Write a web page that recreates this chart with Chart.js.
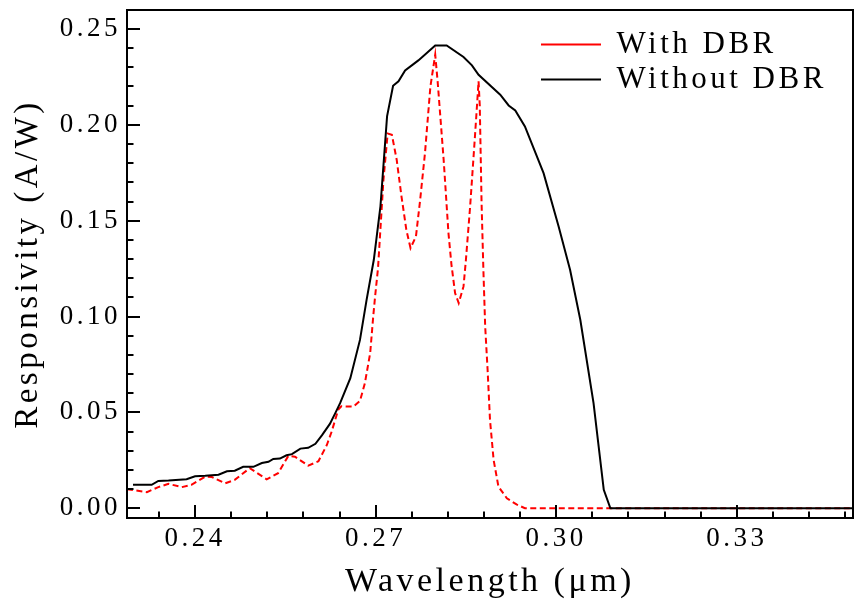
<!DOCTYPE html>
<html><head><meta charset="utf-8">
<script src="https://cdn.jsdelivr.net/npm/chart.js@4/dist/chart.umd.min.js"></script>
<style>html,body{margin:0;padding:0;background:#fff}#wrap{width:863px;height:609px;position:relative}</style>
</head><body><div id="wrap"><canvas id="c"></canvas></div>
<script>
// ---- data ----
const withDbrWavelength = [0.2287,0.2320,0.2339,0.2356,0.2378,0.2394,0.2417,0.2428,0.2450,0.2466,0.2491,0.2519,0.2538,0.2555,0.2566,0.2588,0.2605,0.2619,0.2627,0.2638,0.2643,0.2663,0.2674,0.2682,0.2691,0.2696,0.2699,0.2704,0.2713,0.2720,0.2727,0.2735,0.2743,0.2751,0.2758,0.2767,0.2774,0.2782,0.2791,0.2799,0.2803,0.2813,0.2821,0.2826,0.2832,0.2838,0.2846,0.2850,0.2857,0.2865,0.2869,0.2871,0.2873,0.2876,0.2879,0.2882,0.2886,0.2890,0.2896,0.2904,0.2918,0.2934,0.2948,0.3493];
const withDbrResponsivity = [0.0099,0.0084,0.0110,0.0127,0.0110,0.0122,0.0165,0.0163,0.0130,0.0148,0.0209,0.0151,0.0183,0.0273,0.0269,0.0222,0.0245,0.0330,0.0400,0.0515,0.0532,0.0530,0.0560,0.0650,0.0810,0.1000,0.1100,0.1253,0.1713,0.1954,0.1948,0.1818,0.1626,0.1453,0.1357,0.1418,0.1609,0.1853,0.2200,0.2366,0.2227,0.1818,0.1435,0.1270,0.1122,0.1070,0.1157,0.1296,0.1574,0.1939,0.2131,0.2227,0.2100,0.1592,0.1244,0.0948,0.0722,0.0461,0.0252,0.0113,0.0052,0.0020,0.0000,0.0000];
const withoutDbrWavelength = [0.2297,0.2328,0.2339,0.2356,0.2386,0.2400,0.2417,0.2439,0.2453,0.2466,0.2480,0.2497,0.2511,0.2522,0.2530,0.2541,0.2552,0.2561,0.2575,0.2588,0.2600,0.2611,0.2624,0.2633,0.2641,0.2658,0.2674,0.2685,0.2697,0.2708,0.2719,0.2729,0.2738,0.2749,0.2771,0.2799,0.2818,0.2846,0.2860,0.2871,0.2907,0.2921,0.2932,0.2948,0.2979,0.3004,0.3023,0.3040,0.3062,0.3079,0.3090,0.3493];
const withoutDbrResponsivity = [0.0122,0.0122,0.0142,0.0144,0.0151,0.0167,0.0169,0.0175,0.0193,0.0196,0.0216,0.0216,0.0236,0.0242,0.0257,0.0259,0.0276,0.0282,0.0311,0.0315,0.0336,0.0381,0.0440,0.0496,0.0548,0.0678,0.0878,0.1087,0.1296,0.1574,0.2044,0.2204,0.2227,0.2284,0.2336,0.2414,0.2414,0.2354,0.2310,0.2261,0.2157,0.2101,0.2075,0.1992,0.1748,0.1470,0.1244,0.0983,0.0548,0.0096,0.0000,0.0000];
const seriesLabels = ['With DBR', 'Without DBR'];
const xTickValues = [0.24, 0.27, 0.30, 0.33];
const xTickLabels = ['0.24', '0.27', '0.30', '0.33'];
const yTickValues = [0.00, 0.05, 0.10, 0.15, 0.20, 0.25];
const yTickLabels = ['0.00', '0.05', '0.10', '0.15', '0.20', '0.25'];
const xTitle = 'Wavelength (\u03bcm)';
const yTitle = 'Responsivity (A/W)';

const FONT = "'Liberation Serif', 'Times New Roman', serif";
const SPACING = '3.5px';
const MAJOR_LEN = 13, MINOR_LEN = 6.5;

function pts(xs, ys) { return xs.map((x, i) => ({x: x, y: ys[i]})); }

function drawFrameAndTicks(chart) {
  const ctx = chart.ctx, a = chart.chartArea;
  const xs = chart.scales.x, ys = chart.scales.y;
  ctx.save();
  ctx.setLineDash([]);
  ctx.strokeStyle = '#000000';
  ctx.lineCap = 'butt';
  ctx.lineWidth = 2;
  const xMinorStep = 0.006;
  const k0 = Math.ceil(xs.min / xMinorStep - 1e-9);
  const k1 = Math.floor(xs.max / xMinorStep + 1e-9);
  for (let k = k0; k <= k1; k++) {
    const v = k * xMinorStep;
    const px = Math.round(xs.getPixelForValue(v));
    const major = xTickValues.some(t => Math.abs(t - v) < 1e-6);
    ctx.beginPath();
    ctx.moveTo(px, a.bottom);
    ctx.lineTo(px, a.bottom - (major ? MAJOR_LEN : MINOR_LEN));
    ctx.stroke();
  }
  const yMinorStep = 0.01;
  const j0 = Math.ceil(ys.min / yMinorStep - 1e-9);
  const j1 = Math.floor(ys.max / yMinorStep + 1e-9);
  for (let j = j0; j <= j1; j++) {
    const v = j * yMinorStep;
    const py = Math.round(ys.getPixelForValue(v));
    const major = yTickValues.some(t => Math.abs(t - v) < 1e-6);
    ctx.beginPath();
    ctx.moveTo(a.left, py);
    ctx.lineTo(a.left + (major ? MAJOR_LEN : MINOR_LEN), py);
    ctx.stroke();
  }
  ctx.beginPath();
  ctx.rect(a.left, a.top, a.right - a.left, a.bottom - a.top);
  ctx.stroke();
  ctx.restore();
}

const frameTicks = {
  id: 'frameTicks',
  beforeLayout(chart) { chart.ctx.letterSpacing = SPACING; },
  beforeDraw(chart) { chart.ctx.letterSpacing = SPACING; },
  afterLayout(chart) {
    const lg = chart.legend;
    if (!lg) return;
    lg.left = 537; lg.top = 25; lg.right = 863; lg.bottom = 220;
    lg.width = lg.right - lg.left; lg.height = lg.bottom - lg.top;
  },
  afterDraw(chart) { drawFrameAndTicks(chart); }
};

new Chart(document.getElementById('c'), {
  type: 'line',
  data: {
    datasets: [
      {
        label: seriesLabels[0],
        data: pts(withDbrWavelength, withDbrResponsivity),
        borderColor: '#ff0000', backgroundColor: '#ff0000',
        borderWidth: 2, borderDash: [6, 3.5],
        pointRadius: 0, pointStyle: 'line', tension: 0, fill: false, order: 1
      },
      {
        label: seriesLabels[1],
        data: pts(withoutDbrWavelength, withoutDbrResponsivity),
        borderColor: '#000000', backgroundColor: '#000000',
        borderWidth: 2,
        pointRadius: 0, pointStyle: 'line', tension: 0, fill: false, order: 0
      }
    ]
  },
  options: {
    responsive: true, maintainAspectRatio: false, animation: false, events: [],
    layout: { padding: { top: 10, right: 10, left: 0, bottom: 0 } },
    scales: {
      x: {
        type: 'linear', min: 0.2287, max: 0.3493,
        grid: { display: false, drawTicks: false },
        border: { display: false },
        afterBuildTicks: s => { s.ticks = xTickValues.map(v => ({value: v})); },
        afterFit: s => { s.height = 91; s.paddingLeft = 0; s.paddingRight = 0; },
        ticks: {
          autoSkip: false, maxRotation: 0, padding: 5, color: '#000',
          font: { family: FONT, size: 27 },
          callback: (v) => { const i = xTickValues.findIndex(t => Math.abs(t - v) < 1e-6); return i >= 0 ? xTickLabels[i] : ''; }
        },
        title: { display: true, text: xTitle, color: '#000', font: { family: FONT, size: 34 }, padding: { top: 0, bottom: 7 } }
      },
      y: {
        type: 'linear', min: -0.0051, max: 0.2599,
        grid: { display: false, drawTicks: false },
        border: { display: false },
        afterBuildTicks: s => { s.ticks = yTickValues.map(v => ({value: v})); },
        afterFit: s => { s.width = 127; s.paddingTop = 0; s.paddingBottom = 0; },
        ticks: {
          autoSkip: false, padding: 6, color: '#000',
          font: { family: FONT, size: 27 },
          callback: (v) => { const i = yTickValues.findIndex(t => Math.abs(t - v) < 1e-6); return i >= 0 ? yTickLabels[i] : ''; }
        },
        title: { display: true, text: yTitle, color: '#000', font: { family: FONT, size: 33 }, padding: { top: 9, bottom: 0 } }
      }
    },
    plugins: {
      tooltip: { enabled: false },
      legend: {
        position: 'chartArea', align: 'start',
        labels: {
          usePointStyle: true, pointStyleWidth: 60, boxHeight: 10,
          padding: 4, color: '#000',
          font: { family: FONT, size: 31, lineHeight: 1.0 },
          sort: (a, b) => a.datasetIndex - b.datasetIndex
        }
      }
    }
  },
  plugins: [frameTicks]
});
</script>
</body></html>
